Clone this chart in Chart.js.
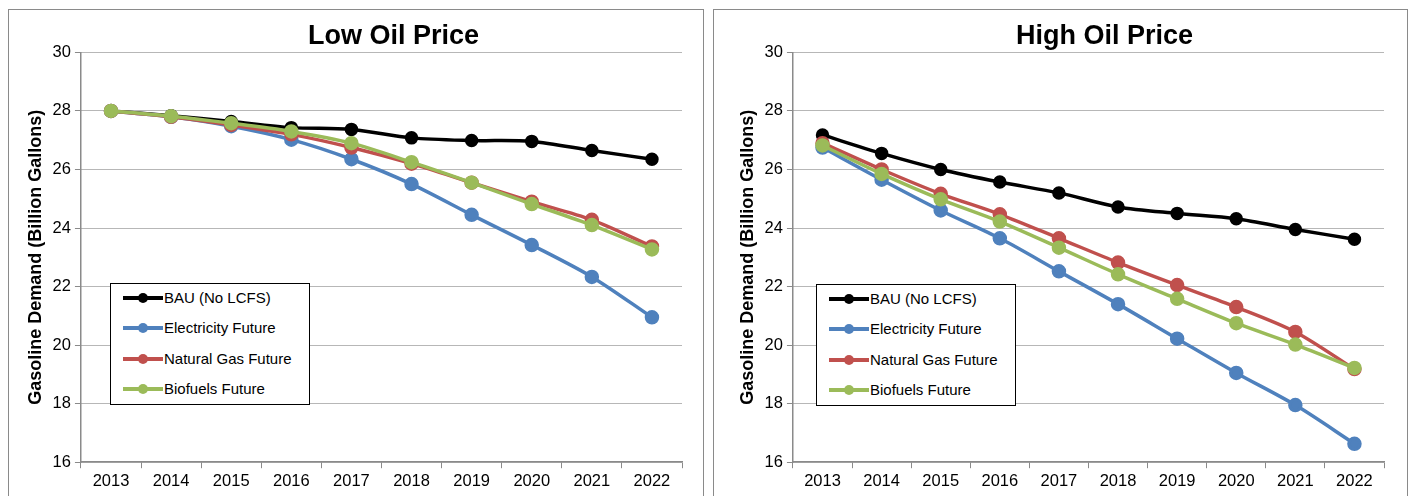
<!DOCTYPE html>
<html>
<head>
<meta charset="utf-8">
<script src="https://cdn.jsdelivr.net/npm/chart.js@4"></script>
<style>
  body { margin: 0; background: #fff; width: 1408px; height: 496px; overflow: hidden; position: relative; font-family: Arial, "Liberation Sans", sans-serif; }
  .box { position: absolute; top: 9px; height: 490px; border: 1px solid #8a8a8a; background: #fff; }
  .box canvas { position: absolute; left: 0; top: 0; }
  .legend { position: absolute; border: 1.5px solid #000; background: #fff; }
  .legend .row { position: absolute; left: 12px; height: 20px; font-size: 15px; line-height: 20px; white-space: nowrap; }
  .legend .sw { position: absolute; left: 0; top: 8px; width: 40px; height: 4px; }
  .legend .dot { position: absolute; left: 15px; top: 5px; width: 10px; height: 10px; border-radius: 50%; }
  .legend .txt { position: absolute; left: 41px; top: 0; }
</style>
</head>
<body>
<div class="box" id="boxL" style="left:8px;width:694px;"><canvas id="lowChart" width="694" height="488"></canvas></div>
<div class="box" id="boxR" style="left:713px;width:693px;"><canvas id="highChart" width="693" height="488"></canvas></div>
<script>
// years on the x axis
const years = ['2013','2014','2015','2016','2017','2018','2019','2020','2021','2022'];
const seriesNames = ['BAU (No LCFS)', 'Electricity Future', 'Natural Gas Future', 'Biofuels Future'];
const seriesColors = ['#000000', '#4f81bd', '#c0504d', '#9bbb59'];

// Low Oil Price scenario
const lowBau  = [28.0, 27.84, 27.64, 27.43, 27.37, 27.08, 26.99, 26.96, 26.65, 26.35];
const lowElec = [28.0, 27.8, 27.48, 27.02, 26.35, 25.5, 24.45, 23.42, 22.33, 20.95];
const lowNg   = [28.0, 27.8, 27.52, 27.2, 26.75, 26.2, 25.55, 24.9, 24.28, 23.37];
const lowBio  = [28.0, 27.82, 27.58, 27.3, 26.9, 26.25, 25.55, 24.82, 24.1, 23.27];

// High Oil Price scenario
const highBau  = [27.18, 26.55, 26.0, 25.57, 25.2, 24.72, 24.5, 24.32, 23.95, 23.62];
const highElec = [26.75, 25.65, 24.6, 23.65, 22.52, 21.4, 20.22, 19.05, 17.95, 16.63];
const highNg   = [26.9, 26.0, 25.17, 24.47, 23.65, 22.82, 22.05, 21.3, 20.45, 19.18];
const highBio  = [26.82, 25.85, 24.98, 24.22, 23.33, 22.42, 21.58, 20.75, 20.02, 19.22];

const yMin = 16, yMax = 30, yStep = 2;

function makeChart(id, title, data, pad, titleShift) {
  const sets = data.map((d, i) => ({
    label: seriesNames[i],
    data: d,
    borderColor: seriesColors[i],
    backgroundColor: seriesColors[i],
    borderWidth: 3.5,
    pointRadius: i == 0 ? 5 : 5.5,
    pointHoverRadius: 5,
    tension: 0.3
  }));
  // draw black last so order matches the picture (green on top of red)
  sets.reverse();
  return new Chart(document.getElementById(id), {
    type: 'line',
    data: { labels: years, datasets: sets },
    options: {
      responsive: false,
      animation: false,
      layout: { padding: pad },
      plugins: {
        legend: { display: false },
        tooltip: { enabled: false },
        title: {
          display: true, text: title, fullSize: false,
          color: '#000', font: { family: 'Arial', size: 27, weight: 'bold' },
          padding: { top: 6, bottom: 0 }
        }
      },
      scales: {
        x: {
          offset: true,
          grid: { offset: true, drawOnChartArea: false, color: '#8a8a8a', tickLength: 6 },
          border: { color: '#8a8a8a', width: 1.5 },
          ticks: { color: '#000', font: { family: 'Arial', size: 16.5 }, padding: 3, maxRotation: 0 }
        },
        y: {
          min: yMin, max: yMax,
          ticks: { stepSize: yStep, color: '#000', font: { family: 'Arial', size: 16.5 }, padding: 4 },
          grid: { color: '#6f6f6f', lineWidth: 1, tickLength: 6, tickBorderDash: [], tickColor: '#8a8a8a' },
          // in v4 border.dash dashes the grid lines; the axis line itself stays solid
          border: { color: '#8a8a8a', width: 1.5, dash: [1, 1] },
          title: {
            display: true, text: 'Gasoline Demand (Billion Gallons)',
            color: '#000', font: { family: 'Arial', size: 18, weight: 'bold' }, padding: 2
          }
        }
      }
    },
    plugins: [{
      // the original title sits a bit right of the plot centre
      id: 'titleShift',
      afterLayout(chart) {
        chart.titleBlock.left += titleShift;
        chart.titleBlock.right += titleShift;
      }
    }]
  });
}

function makeLegend(boxId, left, top) {
  const lg = document.createElement('div');
  lg.className = 'legend';
  lg.style.left = left + 'px';
  lg.style.top = top + 'px';
  lg.style.width = '198px';
  lg.style.height = '120px';
  seriesNames.forEach((n, i) => {
    const r = document.createElement('div');
    r.className = 'row';
    r.style.top = (4 + i * 30.3) + 'px';
    r.innerHTML = '<div class="sw" style="background:' + seriesColors[i] + '"></div>' +
      '<div class="dot" style="background:' + seriesColors[i] + '"></div>' +
      '<div class="txt">' + n + '</div>';
    lg.appendChild(r);
  });
  document.getElementById(boxId).appendChild(lg);
}

makeChart('lowChart', 'Low Oil Price', [lowBau, lowElec, lowNg, lowBio], { left: 14, right: 21, top: 4, bottom: 4 }, 12);
makeChart('highChart', 'High Oil Price', [highBau, highElec, highNg, highBio], { left: 21, right: 23, top: 4, bottom: 4 }, 16);
makeLegend('boxL', 101, 273);
makeLegend('boxR', 102, 274);
</script>
</body>
</html>
